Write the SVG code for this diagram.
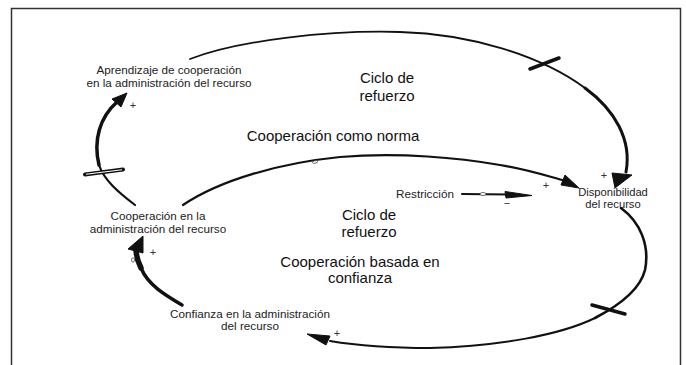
<svg xmlns="http://www.w3.org/2000/svg" width="686" height="365" viewBox="0 0 686 365">
<style>
.lbl{font-family:"Liberation Sans",Arial,sans-serif;font-size:11.7px;fill:#222;text-anchor:middle}
.sm{font-size:11.2px}
.big{font-family:"Liberation Sans",Arial,sans-serif;font-size:15px;fill:#111;text-anchor:middle}
.sg{font-family:"Liberation Sans",Arial,sans-serif;font-size:11px;fill:#333;text-anchor:middle}
.ln{fill:none;stroke:#111;stroke-linecap:round}
.hd{fill:#111;stroke:#111;stroke-width:1;stroke-linejoin:round}
.dot{fill:#fff;stroke:#333;stroke-width:0.7}
</style>
<rect width="686" height="365" fill="#fff"/>
<path d="M11.5,365 V8.5 H680.5 V365" fill="none" stroke="#333" stroke-width="1.5"/>

<g id="connectors">
  <!-- outer top loop: Aprendizaje -> Disponibilidad -->
  <path class="ln" stroke-width="1.8" d="M190,59 C240,40 330,30 400,32 C470,34 540,55 585,88"/>
  <path class="ln" stroke-width="3" d="M585,88 C615,110 632,140 626,172"/>
  <polygon class="hd" points="615,188 612,173 632,175"/>
  <path class="ln" stroke-width="3.5" d="M530,69 L559,58"/>

  <!-- inner top arc: Cooperación -> Disponibilidad -->
  <path class="ln" stroke-width="2.2" d="M183,205 C220,180 280,163 340,157 C400,152 460,158 500,165 C530,170 550,177 566,181"/>
  <polygon class="hd" points="579,188 565,175 561,185"/>
  <ellipse class="dot" cx="315" cy="162" rx="2.6" ry="1.3" transform="rotate(-12 315 162)"/>

  <!-- Restricción -> Disponibilidad -->
  <path class="ln" stroke-width="2" d="M462,194 L510,194.5"/>
  <polygon class="hd" points="532,195.5 505,191.5 506,198"/>
  <ellipse class="dot" cx="483" cy="194" rx="3" ry="1.5"/>

  <!-- bottom loop: Disponibilidad -> Confianza -->
  <path class="ln" stroke-width="2.6" d="M621,208 C640,222 650,245 645,270 C640,290 620,305 595,318"/>
  <path class="ln" stroke-width="2" d="M595,318 C560,335 500,346 430,348 C400,348 360,346 330,341"/>
  <polygon class="hd" points="307,334 330,336 326,345"/>
  <path class="ln" stroke-width="3.5" d="M592,305 L625,314"/>

  <!-- Confianza -> Cooperación -->
  <path class="ln" stroke-width="3.5" d="M182,305 C165,295 148,285 141,268"/>
  <path class="ln" stroke-width="5.5" d="M141,268 C137,260 136,256 136,249"/>
  <polygon class="hd" points="143,236 128,249 143,253"/>
  <ellipse class="dot" cx="133" cy="260" rx="1.5" ry="2.2"/>

  <!-- Cooperación -> Aprendizaje -->
  <path class="ln" stroke-width="2.2" d="M135,205 C118,192 104,180 99,165"/>
  <path class="ln" stroke-width="3.5" d="M99,165 C93,140 100,117 117,102"/>
  <polygon class="hd" points="127,93 112,99 121,107"/>
  <path class="ln" stroke-width="4" d="M85,174.5 L123,169.5"/>
  <path d="M86,174.3 L122,169.7" stroke="#fff" stroke-width="1.1" fill="none"/>

  <!-- polarity signs -->
  <text class="sg" x="133" y="109">+</text>
  <text class="sg" x="153" y="256">+</text>
  <text class="sg" x="337" y="337">+</text>
  <text class="sg" x="546" y="189">+</text>
  <text class="sg" x="604" y="179">+</text>
  <text class="sg" x="507" y="207">−</text>
</g>

<g id="aprendizaje">
  <text class="lbl" x="169" y="74">Aprendizaje de cooperación</text>
  <text class="lbl" x="169" y="87">en la administración del recurso</text>
</g>
<g id="disponibilidad">
  <text class="lbl sm" x="613" y="195.5">Disponibilidad</text>
  <text class="lbl sm" x="613" y="207.5">del recurso</text>
</g>
<g id="cooperacion">
  <text class="lbl" x="158" y="220">Cooperación en la</text>
  <text class="lbl" x="158" y="233">administración del recurso</text>
</g>
<g id="confianza">
  <text class="lbl" x="250" y="317.5">Confianza en la administración</text>
  <text class="lbl" x="250" y="329.5">del recurso</text>
</g>
<g id="restriccion">
  <text class="lbl" x="425" y="198">Restricción</text>
</g>
<g id="loop-norma">
  <text class="big" x="387" y="83">Ciclo de</text>
  <text class="big" x="387" y="101">refuerzo</text>
  <text class="big" x="333" y="141">Cooperación como norma</text>
</g>
<g id="loop-confianza">
  <text class="big" x="369" y="220">Ciclo de</text>
  <text class="big" x="369" y="237">refuerzo</text>
  <text class="big" x="360" y="267">Cooperación basada en</text>
  <text class="big" x="360" y="283">confianza</text>
</g>
</svg>
